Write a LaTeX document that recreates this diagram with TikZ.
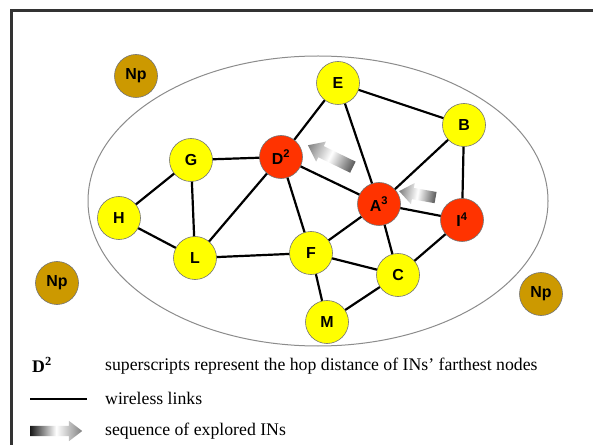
\documentclass[tikz,border=0pt]{standalone}
\usepackage{fontspec}
\setmainfont{Liberation Serif}
\newfontfamily\labelfont{Liberation Sans}
\usetikzlibrary{shapes.arrows}
\definecolor{ingold}{RGB}{204,153,0}
\definecolor{inred}{RGB}{255,51,0}
\definecolor{inyellow}{RGB}{255,255,0}
\tikzset{
  netnode/.style={circle, draw=black!55, line width=0.6bp, minimum size=43bp, inner sep=0pt,
    font=\labelfont\bfseries\fontsize{16}{18}\selectfont},
  plain/.style={netnode, fill=inyellow},
  explored/.style={netnode, fill=inred},
  outsider/.style={netnode, fill=ingold},
  link/.style={line width=2.2bp, black},
  seqarrow/.style={single arrow, draw=none, minimum height=#1,
    single arrow head extend=5bp, single arrow tip angle=75,
    inner xsep=0pt, inner ysep=6bp, text height=0pt, text depth=0pt,
    left color=black!65, right color=black!50, middle color=white},
  legendtext/.style={anchor=west, inner sep=0pt, font=\fontsize{17.8}{20}\selectfont}
}
\begin{document}
\begin{tikzpicture}[x=1bp, y=-1bp]
\useasboundingbox (0,0) rectangle (593,445);
\fill[white] (0,0) rectangle (593,445);
% frame
\draw[line width=3bp, black!80] (11,445) -- (11,11) -- (593,11);
% network area
\draw[black!45, line width=1bp] (318,201) ellipse [x radius=230, y radius=145];

% node positions
\coordinate (pE) at (338,83);
\coordinate (pB) at (464,125);
\coordinate (pG) at (191,160);
\coordinate (pD) at (281,157);
\coordinate (pA) at (379,204);
\coordinate (pI) at (462,220);
\coordinate (pH) at (119,218);
\coordinate (pL) at (195,258);
\coordinate (pF) at (311,253);
\coordinate (pC) at (398,275);
\coordinate (pM) at (327,322);

% wireless links
\draw[link] (pE) -- (pD);
\draw[link] (pE) -- (pA);
\draw[link] (pE) -- (pB);
\draw[link] (pB) -- (pA);
\draw[link] (pB) -- (pI);
\draw[link] (pG) -- (pD);
\draw[link] (pG) -- (pH);
\draw[link] (pG) -- (pL);
\draw[link] (pH) -- (pL);
\draw[link] (pL) -- (pD);
\draw[link] (pL) -- (pF);
\draw[link] (pD) -- (pF);
\draw[link] (pD) -- (pA);
\draw[link] (pA) -- (pF);
\draw[link] (pA) -- (pC);
\draw[link] (pA) -- (pI);
\draw[link] (pI) -- (pC);
\draw[link] (pF) -- (pC);
\draw[link] (pF) -- (pM);
\draw[link] (pM) -- (pC);

% nodes
\node[plain] (E) at (pE) {E};
\node[plain] (B) at (pB) {B};
\node[plain] (G) at (pG) {G};
\node[explored] (D) at (pD) {D\textsuperscript{2}};
\node[explored] (A) at (pA) {A\textsuperscript{3}};
\node[explored] (I) at (pI) {I\textsuperscript{4}};
\node[plain] (H) at (pH) {H};
\node[plain] (L) at (pL) {L};
\node[plain] (F) at (pF) {F};
\node[plain] (C) at (pC) {C};
\node[plain] (M) at (pM) {M};

\node[outsider] (Np1) at (136,76) {Np};
\node[outsider] (Np2) at (57,283) {Np};
\node[outsider] (Np3) at (541,294) {Np};

% exploration sequence arrows
\begin{scope}[transform canvas={shift={(334bp,-158bp)}, rotate=154}]
  \node[seqarrow=50bp] (s1) at (0,0) {};
\end{scope}
\begin{scope}[transform canvas={shift={(421bp,-195bp)}, rotate=170}]
  \node[seqarrow=37bp, inner ysep=5.5bp] (s2) at (0,0) {};
\end{scope}

% legend
\node[anchor=west, inner sep=0pt, font=\bfseries\fontsize{17.8}{20}\selectfont] (kD) at (32,365) {D\textsuperscript{2}};
\node[legendtext] (t1) at (105,366) {superscripts represent the hop distance of INs’ farthest nodes};
\coordinate (k1) at (30,399);
\coordinate (k2) at (87,399);
\draw[line width=2.2bp] (k1) -- (k2);
\node[legendtext] (t2) at (105,398) {wireless links};
\node[seqarrow=52bp, inner ysep=5bp, left color=black!90, right color=black!50, middle color=white, anchor=west] (kA) at (30,431) {};
\node[legendtext] (t3) at (105,431) {sequence of explored INs};
\end{tikzpicture}
\end{document}
